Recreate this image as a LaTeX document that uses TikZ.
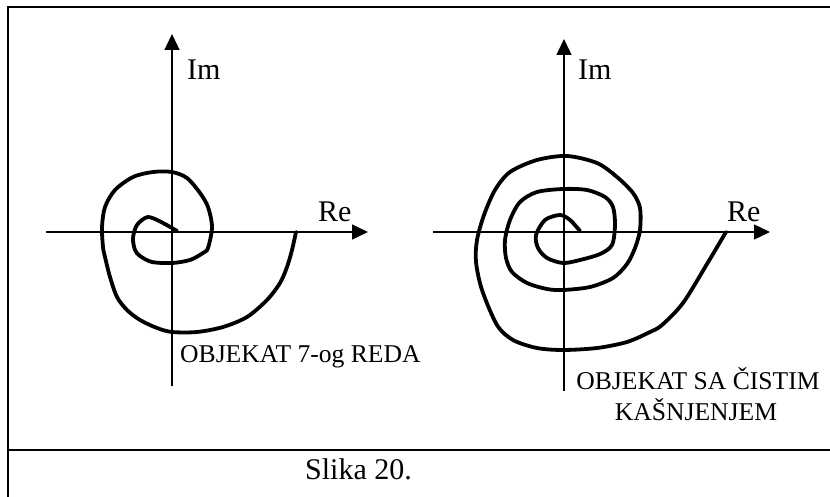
\documentclass[tikz,border=0pt]{standalone}
\usepackage{fontspec}
\setmainfont{Liberation Serif}
\usetikzlibrary{arrows.meta}
\begin{document}
\begin{tikzpicture}[x=1pt,y=-1pt,
  axis/.style={line width=1.3pt,-{Triangle[length=16pt,width=15pt]}},
  curve/.style={line width=3.8pt,line cap=round,line join=round},
  frame/.style={line width=2.5pt},
  big/.style={inner sep=0pt,anchor=base west,font=\fontsize{30}{36}\selectfont},
  small/.style={inner sep=0pt,font=\fontsize{25.6}{31}\selectfont}]
\useasboundingbox (0,0) rectangle (830,497);
% frame (right and bottom edges lie outside the picture)
\begin{scope}
\clip (0,0) rectangle (830,497);
\draw[frame] (8,7) rectangle (845,510);
\draw[frame] (8,450) -- (845,450);
\end{scope}
% left axes
\coordinate (lvb) at (172,386);
\coordinate (lvt) at (172,34);
\coordinate (lhl) at (46,232);
\coordinate (lhr) at (368,232);
\draw[axis] (lvb) -- (lvt);
\draw[axis] (lhl) -- (lhr);
\node[big] (lim) at (187,80) {Im};
\node[big] (lre) at (318,222) {Re};
% right axes
\coordinate (rvb) at (564,391);
\coordinate (rvt) at (564,39);
\coordinate (rhl) at (433,232);
\coordinate (rhr) at (770,232);
\draw[axis] (rvb) -- (rvt);
\draw[axis] (rhl) -- (rhr);
\node[big] (rim) at (578,80) {Im};
\node[big] (rre) at (727,222) {Re};
% left spiral
\draw[curve] plot[smooth,tension=0.5] coordinates {
(177,231) (163,223) (148,217) (137,225) (133,238) (135,250) (140,256) (152,262) (172,263) (190,260) (203,253)
(208,248) (212,227) (208,207) (200,193) (187,178) (172,172) (153,172) (133,177) (115,190) (105,207) (102,227)
(103,247) (105,257) (110,277) (117,297) (127,310) (140,320) (157,328) (172,332) (197,332) (223,327) (247,317)
(267,300) (280,283) (287,267) (292,250) (296,232)};
% right spiral
\draw[curve] plot[smooth,tension=0.5] coordinates {
(580,231) (570,220) (560,215) (545,220) (536,235) (538,248) (547,258) (563,263) (580,260) (600,254) (612,245)
(615,225) (613,207) (605,197) (587,190) (563,189) (537,192) (520,202) (510,220) (505,240) (506,258) (512,272)
(527,283) (547,289) (563,290) (590,287) (613,278) (627,264) (635,248) (640,230) (640,208) (633,193) (617,177)
(597,163) (567,156) (537,160) (510,172) (495,190) (484,215) (477,240) (476,262) (482,290) (497,325) (513,340)
(537,348) (563,350) (597,348) (627,342) (650,332) (662,325) (683,303) (707,264) (726,232)};
% labels
\node[small,anchor=base west] (l7) at (180,362) {OBJEKAT 7-og REDA};
\node[small,anchor=base] (lk1) at (698,389) {OBJEKAT SA ČISTIM};
\node[small,anchor=base] (lk2) at (696,420) {KAŠNJENJEM};
\node[big] (slika) at (305,479) {Slika 20.};
\end{tikzpicture}
\end{document}
